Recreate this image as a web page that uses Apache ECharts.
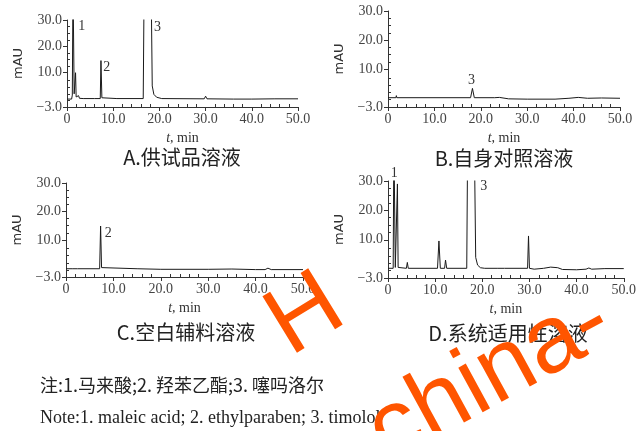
<!DOCTYPE html>
<html><head><meta charset="utf-8">
<script src="https://cdn.jsdelivr.net/npm/echarts@6/dist/echarts.min.js"></script>
<style>html,body{margin:0;padding:0;background:#fff}#c{width:639px;height:431px}</style>
</head><body><div id="c"></div>
<script>
// ---- data (time in min, absorbance in mAU) ----
const xTickValues = [0, 10, 20, 30, 40, 50];
const yTickLabels = [-3, 10, 20, 30];
const yMinorTicks = [-0.5, 2, 4.5, 7, 12.5, 15, 17.5, 22.5, 25, 27.5];

const traceA = [[0,0.0],[1.0,0.0],[1.15,1.5],[1.3,45],[1.42,45],[1.55,2],[1.7,1.5],[1.85,10],[1.98,0.8],[2.3,0.4],[2.5,1.3],[2.7,0.3],[3.5,0.2],[6.0,0.2],[6.2,0.8],[6.4,0.2],[7.2,0.2],[7.35,14.6],[7.55,0.5],[7.9,0.2],[10.8,0.2],[11.0,0.9],[11.2,0.2],[16.5,0.2],[16.7,45],[18.2,45],[18.45,5],[18.8,1.8],[19.4,0.7],[20.5,0.2],[29.7,0.1],[30.0,1.1],[30.3,0.1],[36,0.0],[40,0.0],[45,0.1],[50,0.1]];
const traceB = [[0,0.2],[1.7,0.2],[1.8,0.9],[1.9,0.2],[17.8,0.2],[18.2,3.4],[18.6,0.2],[23,0.2],[24,0.3],[26,-0.2],[30,-0.3],[36,-0.3],[39,0.0],[41,0.3],[43,0.0],[46,0.1],[50,0.0]];
const traceC = [[0,-0.1],[1.3,-0.1],[1.5,0.5],[1.7,-0.1],[2.4,-0.1],[2.5,0.6],[2.7,-0.1],[7.1,-0.1],[7.3,14.9],[7.5,0.3],[7.8,-0.1],[15,-0.1],[20,-0.3],[30,-0.3],[35,-0.2],[40,-0.4],[42,-0.4],[42.6,0.1],[43.3,-0.4],[50,-0.4]];
const traceD = [[0,0.3],[1.1,0.3],[1.25,45],[1.4,45],[1.55,0.6],[1.85,0.6],[2.0,29],[2.15,0.6],[2.5,0.3],[3.9,0.3],[4.1,2.3],[4.3,0.3],[10.5,0.3],[10.8,9.6],[11.1,0.3],[12.0,0.3],[12.2,3.1],[12.45,0.3],[16.7,0.3],[16.9,45],[18.3,45],[18.6,4],[19.0,1.4],[19.6,0.5],[20.5,0.3],[23.3,0.3],[23.5,0.9],[23.7,0.3],[24.7,0.3],[24.9,0.8],[25.1,0.3],[29.6,0.3],[29.8,11.3],[30.0,0.3],[31,0.0],[33,0.3],[34.5,0.7],[36,0.5],[37,-0.1],[40,-0.2],[42,0.0],[42.6,0.4],[43.2,0.0],[46,0.2],[50,0.2]];

// peak labels: [t, mAU anchor, text, vertical offset px]
const labelsA = [[3.2,27.5,'1',0],[8.6,11.9,'2',0],[19.6,27.1,'3',0]];
const labelsB = [[18.0,6.3,'3',0]];
const labelsC = [[8.9,12.4,'2',0]];
const labelsD = [[1.3,29.5,'1',-9],[20.3,28.3,'3',0]];

const captions = ['A.供试品溶液','B.自身对照溶液','C.空白辅料溶液','D.系统适用性溶液'];
const noteCn = '注:1.马来酸;2. 羟苯乙酯;3. 噻吗洛尔';
const noteEn = 'Note:1. maleic acid; 2. ethylparaben; 3. timolol';

// ---- layout ----
const SERIF = '"Liberation Serif","DejaVu Serif",serif';
const CJK = '"Noto Sans CJK SC",sans-serif';
const panels = [
  {left:67, top:20, width:231, height:87, data:traceA, labels:labelsA, cap:[182,157]},
  {left:388, top:11, width:232, height:96, data:traceB, labels:labelsB, cap:[504,158]},
  {left:66, top:183, width:237, height:94, data:traceC, labels:labelsC, cap:[186,332]},
  {left:388, top:181, width:237, height:97, data:traceD, labels:labelsD, cap:[508,333]}
];

const grid = [], xAxis = [], yAxis = [], series = [], graphic = [];
panels.forEach((p, i) => {
  grid.push({left:p.left, top:p.top, width:p.width, height:p.height, containLabel:false});
  xAxis.push({
    type:'value', gridIndex:i, min:0, max:50, interval:10,
    axisLine:{onZero:false, lineStyle:{color:'#333', width:1}},
    axisTick:{show:true, length:4, lineStyle:{color:'#333'}},
    minorTick:{show:true, splitNumber:5, length:-3, lineStyle:{color:'#333'}},
    splitLine:{show:false},
    axisLabel:{color:'#444', fontFamily:SERIF, fontSize:14, margin:5, formatter:v => v === 0 ? '0' : v.toFixed(1)},
    name:'{i|t}{n|, min}', nameLocation:'middle', nameGap:24,
    nameTextStyle:{rich:{i:{fontStyle:'italic', fontFamily:SERIF, fontSize:14, color:'#333'}, n:{fontFamily:SERIF, fontSize:14, color:'#333'}}}
  });
  yAxis.push({
    type:'value', gridIndex:i, min:-3, max:30,
    axisLine:{onZero:false, lineStyle:{color:'#333', width:1}},
    axisTick:{show:true, length:4, customValues:yTickLabels, lineStyle:{color:'#333'}},
    splitLine:{show:false},
    axisLabel:{color:'#444', fontFamily:SERIF, fontSize:14, margin:5, customValues:yTickLabels,
      formatter:v => (v < 0 ? '\u2212' + Math.abs(v).toFixed(1) : v.toFixed(1))},
    name:'mAU', nameLocation:'middle', nameGap:42,
    nameTextStyle:{fontFamily:'"DejaVu Sans",sans-serif', fontSize:13, color:'#333'}
  });
  // minor ticks on the inside of the y axis
  yAxis.push({
    type:'value', gridIndex:i, min:-3, max:30, position:'left',
    axisLine:{show:false},
    axisTick:{show:true, inside:true, length:3, customValues:yMinorTicks, lineStyle:{color:'#333'}},
    axisLabel:{show:false}, splitLine:{show:false}
  });
  series.push({
    type:'line', xAxisIndex:i, yAxisIndex:i*2, data:p.data, symbol:'none', clip:true,
    lineStyle:{color:'#1a1a1a', width:1}, silent:true, animation:false,
    markPoint:{
      symbol:'circle', symbolSize:1, itemStyle:{color:'rgba(0,0,0,0)'},
      label:{show:true, position:'inside', formatter:'{b}', color:'#333', fontFamily:SERIF, fontSize:14},
      data:p.labels.map(l => ({coord:[l[0], l[1]], name:l[2], label:{offset:[0, l[3]]}}))
    }
  });
  graphic.push({type:'text', x:p.cap[0], y:p.cap[1], style:{text:captions[i], fontFamily:CJK, fontSize:20, fill:'#222', textAlign:'center', textVerticalAlign:'middle'}});
});

graphic.push({type:'text', x:40, y:385, style:{text:noteCn, fontFamily:CJK, fontSize:18, fill:'#222', textVerticalAlign:'middle'}});
graphic.push({type:'text', x:40, y:418, style:{text:noteEn, fontFamily:SERIF, fontSize:18, fill:'#222', textVerticalAlign:'middle'}});
// watermark
graphic.push({type:'text', x:306, y:316, rotation:0.55, z:100, style:{text:'H', fontFamily:'"Liberation Sans",sans-serif', fontSize:96, fill:'#FF5500', textAlign:'center', textVerticalAlign:'middle'}});
graphic.push({type:'text', x:490, y:378, rotation:0.5, z:100, style:{text:'china-', fontFamily:'"Liberation Sans",sans-serif', fontSize:96, fill:'#FF5500', textAlign:'center', textVerticalAlign:'middle'}});

const chart = echarts.init(document.getElementById('c'), null, {renderer:'canvas'});
chart.setOption({animation:false, backgroundColor:'#fff', grid, xAxis, yAxis, series, graphic});
</script></body></html>
